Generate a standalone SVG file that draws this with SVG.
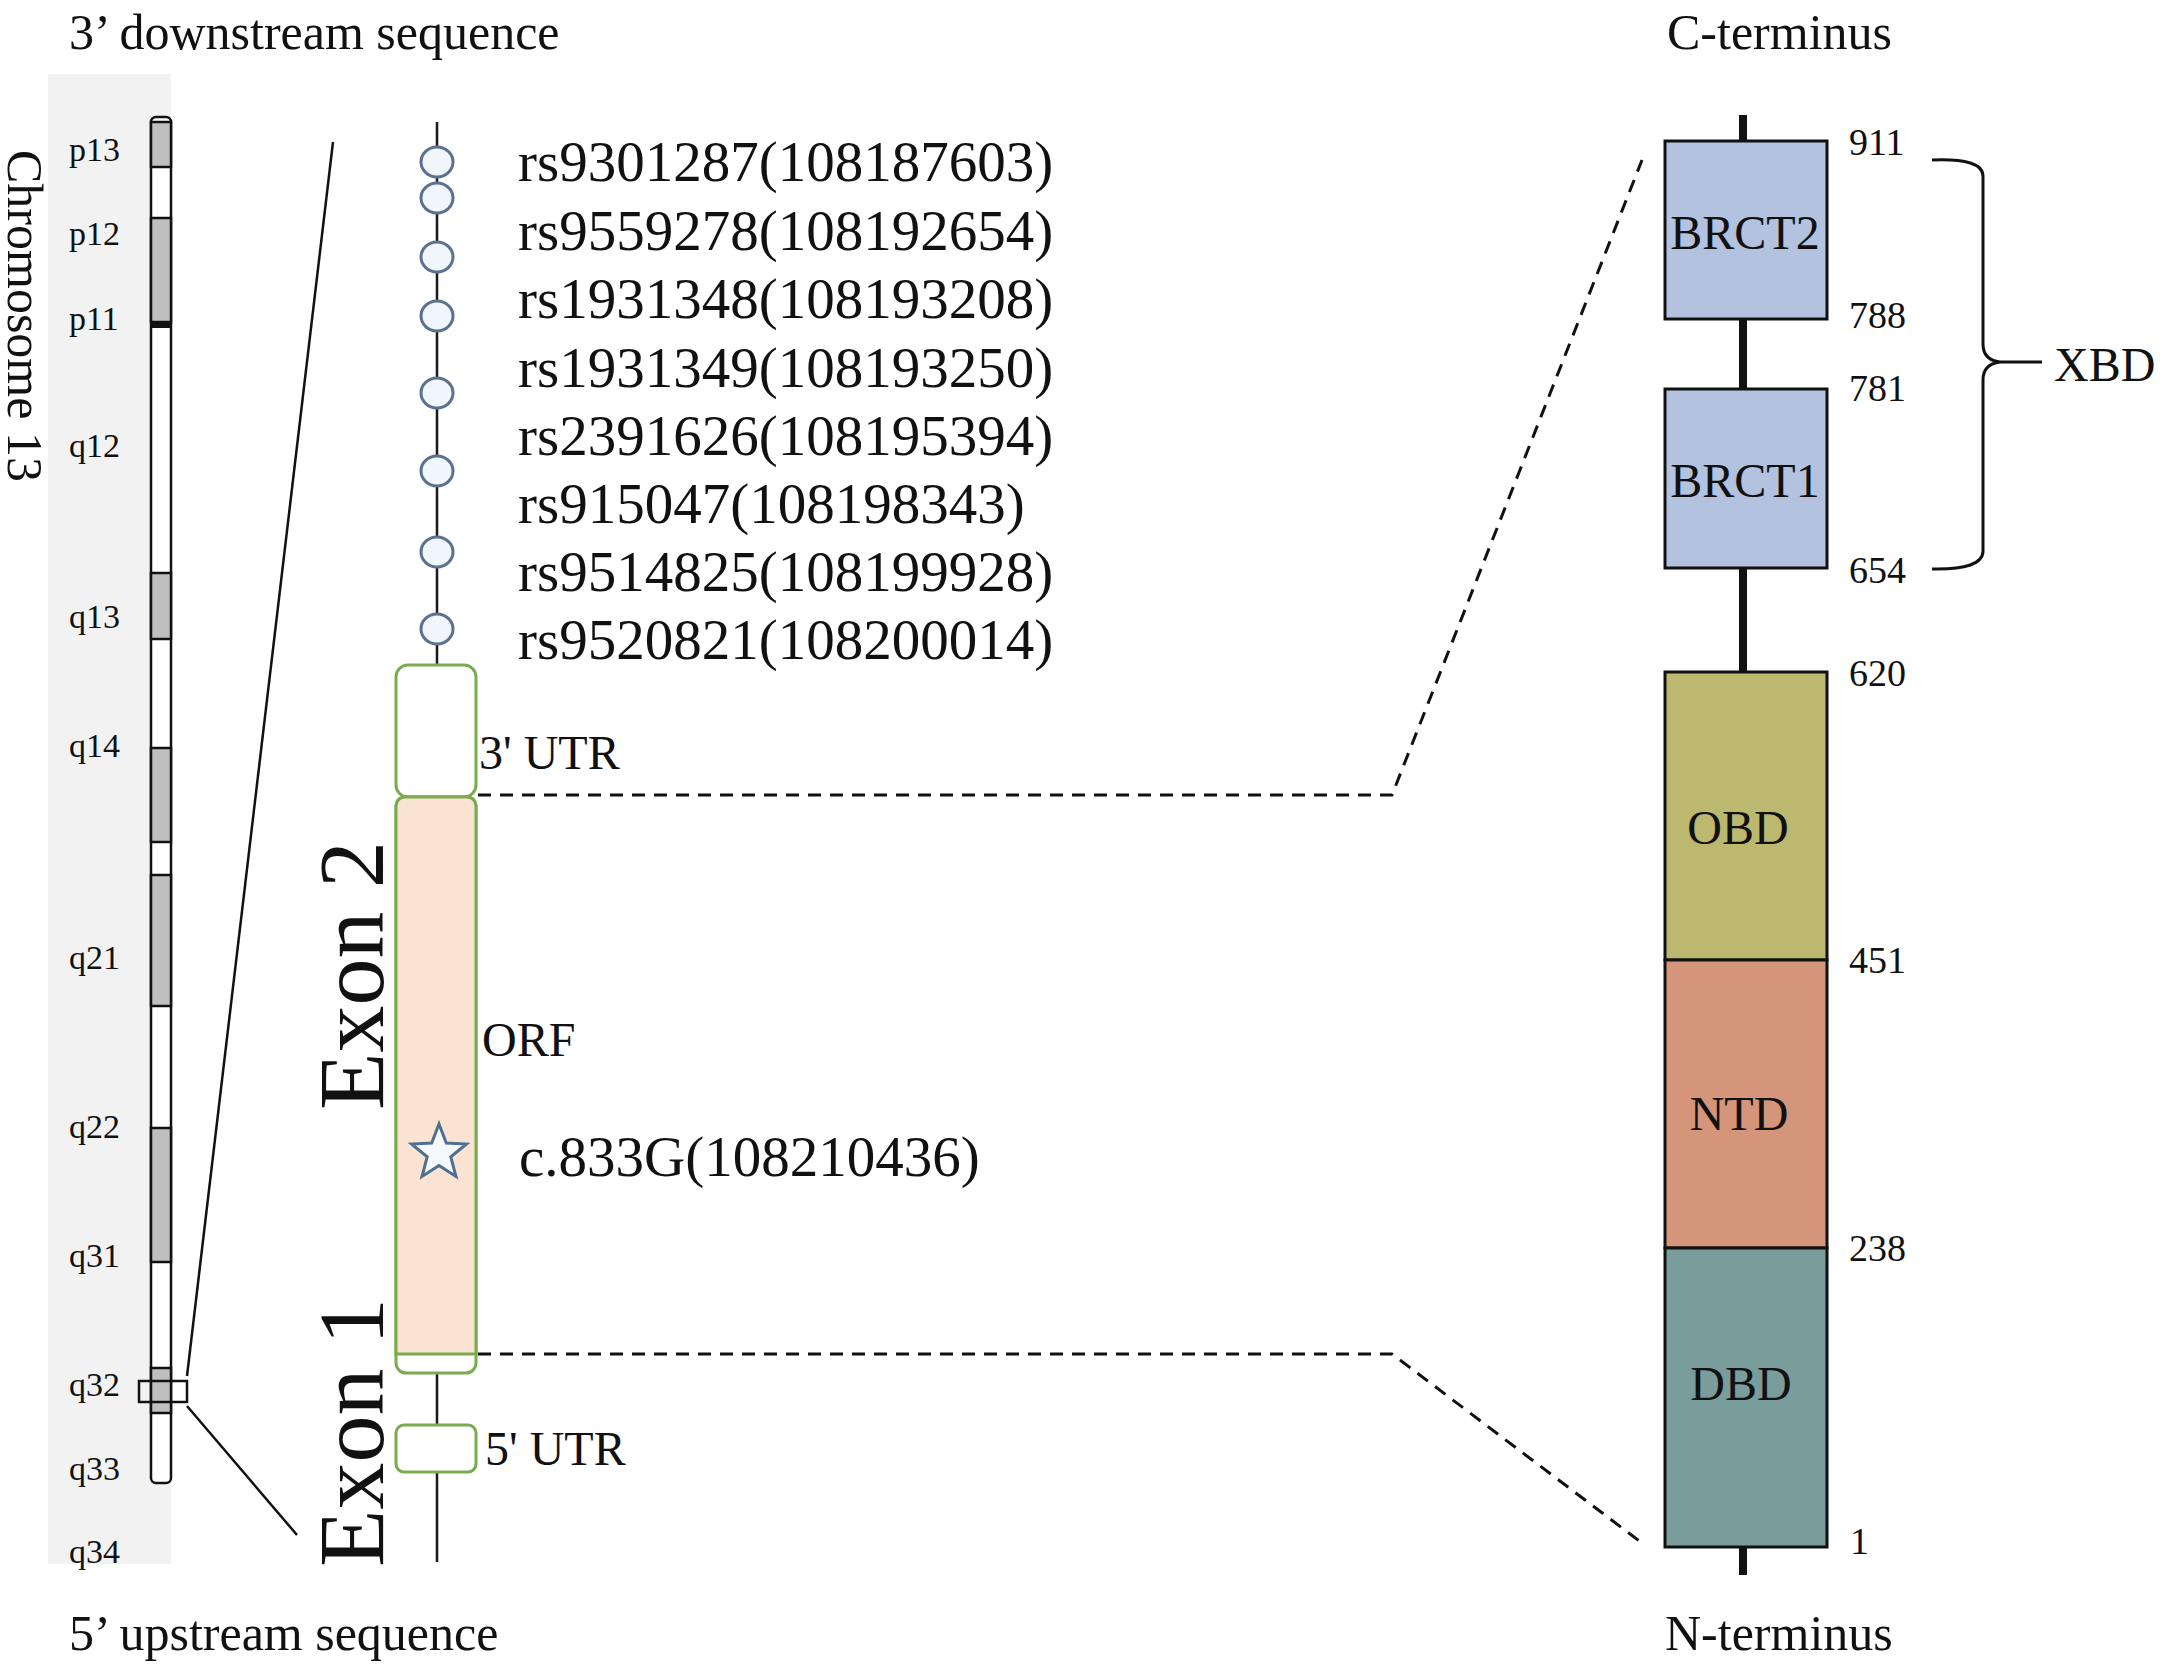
<svg xmlns="http://www.w3.org/2000/svg" width="2165" height="1668" viewBox="0 0 2165 1668">
<defs>
<style>
text{font-family:"Liberation Serif","Times New Roman",serif;fill:#111;}
.t48{font-size:50px;}
.band{font-size:34px;}
.rs{font-size:57px;}
.lab{font-size:48px;}
.num{font-size:38px;}
.exon{font-size:94px;}
.dark{fill:#bfbfbf;stroke:#111;stroke-width:2.5;}
.snp{fill:#f0f6fb;stroke:#5b7190;stroke-width:3;}
.utr{fill:#ffffff;stroke:#7aab50;stroke-width:3;}
.dom{stroke:#111;stroke-width:3;}
.dash{fill:none;stroke:#111;stroke-width:3;stroke-dasharray:13 9;}
.solid{fill:none;stroke:#111;stroke-width:2.5;}
</style>
</defs>
<rect width="2165" height="1668" fill="#ffffff"/>

<g id="titles">
<text class="t48" x="69" y="49">3’ downstream sequence</text>
<text class="t48" x="69" y="1650">5’ upstream sequence</text>
<text class="t48" x="1667" y="49">C-terminus</text>
<text class="t48" x="1665" y="1650">N-terminus</text>
</g>

<g id="chromosome">
<rect x="48" y="74" width="123" height="1490" fill="#f2f2f2"/>
<text class="t48" font-size="49" transform="translate(8,150) rotate(90)">Chromosome 13</text>
<rect x="151" y="117" width="20" height="1366" rx="5" fill="#ffffff" stroke="#111" stroke-width="2.5"/>
<rect class="dark" x="151" y="122" width="20" height="45"/>
<rect class="dark" x="151" y="218" width="20" height="104"/>
<rect x="151" y="321" width="20" height="7" fill="#111"/>
<rect class="dark" x="151" y="573" width="20" height="66"/>
<rect class="dark" x="151" y="748" width="20" height="94"/>
<rect class="dark" x="151" y="875" width="20" height="131"/>
<rect class="dark" x="151" y="1128" width="20" height="134"/>
<rect class="dark" x="151" y="1368" width="20" height="45"/>
<text class="band" x="69" y="161">p13</text>
<text class="band" x="69" y="245">p12</text>
<text class="band" x="69" y="330">p11</text>
<text class="band" x="69" y="457">q12</text>
<text class="band" x="69" y="628">q13</text>
<text class="band" x="69" y="757">q14</text>
<text class="band" x="69" y="969">q21</text>
<text class="band" x="69" y="1138">q22</text>
<text class="band" x="69" y="1267">q31</text>
<text class="band" x="69" y="1396">q32</text>
<text class="band" x="69" y="1480">q33</text>
<text class="band" x="69" y="1563">q34</text>
<rect x="139" y="1381" width="48" height="21" fill="none" stroke="#111" stroke-width="2.5"/>
</g>

<g id="connectors">
<line class="solid" x1="187" y1="1376" x2="333" y2="142"/>
<line class="solid" x1="187" y1="1406" x2="297" y2="1535"/>
<polyline class="dash" points="478,795 1392,795 1642,160"/>
<polyline class="dash" points="478,1354 1392,1354 1642,1543"/>
</g>

<g id="gene">
<line x1="437" y1="122" x2="437" y2="1562" stroke="#1a1a1a" stroke-width="2.5"/>
<g id="snps">
<ellipse class="snp" cx="437" cy="162" rx="16" ry="15"/>
<ellipse class="snp" cx="437" cy="198" rx="16" ry="15"/>
<ellipse class="snp" cx="437" cy="257" rx="16" ry="15"/>
<ellipse class="snp" cx="437" cy="316" rx="16" ry="15"/>
<ellipse class="snp" cx="437" cy="393" rx="16" ry="15"/>
<ellipse class="snp" cx="437" cy="471" rx="16" ry="15"/>
<ellipse class="snp" cx="437" cy="552" rx="16" ry="15"/>
<ellipse class="snp" cx="437" cy="629" rx="16" ry="15"/>
</g>
<g id="snp-labels">
<text class="rs" x="518" y="181">rs9301287(108187603)</text>
<text class="rs" x="518" y="250">rs9559278(108192654)</text>
<text class="rs" x="518" y="318">rs1931348(108193208)</text>
<text class="rs" x="518" y="387">rs1931349(108193250)</text>
<text class="rs" x="518" y="455">rs2391626(108195394)</text>
<text class="rs" x="518" y="523">rs915047(108198343)</text>
<text class="rs" x="518" y="591">rs9514825(108199928)</text>
<text class="rs" x="518" y="659">rs9520821(108200014)</text>
</g>
<g id="utr3">
<rect class="utr" x="396" y="665" width="80" height="132" rx="12"/>
<text class="lab" x="479" y="769">3' UTR</text>
</g>
<g id="orf">
<rect class="utr" x="396" y="797" width="80" height="576" rx="10"/>
<path d="M396,1354 V807 Q396,797 406,797 H466 Q476,797 476,807 V1354 Z" fill="#fbe3d3" stroke="#7aab50" stroke-width="3"/>
<text class="lab" x="482" y="1056">ORF</text>
<path d="M439,1124 L446.3,1143 L466.5,1144 L450.8,1156.9 L456,1176.5 L439,1165.5 L422,1176.5 L427.2,1156.9 L411.5,1144 L431.7,1143 Z" fill="#f5f9fd" stroke="#4f6f92" stroke-width="3" stroke-linejoin="miter"/>
<text class="rs" x="519" y="1176">c.833G(108210436)</text>
</g>
<g id="utr5">
<rect class="utr" x="396" y="1425" width="80" height="47" rx="8"/>
<text class="lab" x="485" y="1465" font-size="49">5' UTR</text>
</g>
<text class="exon" transform="translate(383,1110) rotate(-90)">Exon 2</text>
<text class="exon" transform="translate(383,1567) rotate(-90)">Exon 1</text>
</g>

<g id="protein">
<line x1="1743" y1="115" x2="1743" y2="1575" stroke="#111" stroke-width="8"/>
<g id="brct2">
<rect class="dom" x="1665" y="141" width="162" height="178" fill="#b3c2de"/>
<text class="lab" x="1745" y="249" font-size="51" text-anchor="middle">BRCT2</text>
</g>
<g id="brct1">
<rect class="dom" x="1665" y="389" width="162" height="179" fill="#b3c2de"/>
<text class="lab" x="1745" y="497" font-size="51" text-anchor="middle">BRCT1</text>
</g>
<g id="obd">
<rect class="dom" x="1665" y="672" width="162" height="288" fill="#bcb86f"/>
<text class="lab" x="1738" y="844" text-anchor="middle">OBD</text>
</g>
<g id="ntd">
<rect class="dom" x="1665" y="960" width="162" height="288" fill="#d4957b"/>
<text class="lab" x="1739" y="1130" text-anchor="middle">NTD</text>
</g>
<g id="dbd">
<rect class="dom" x="1665" y="1248" width="162" height="299" fill="#789d9b"/>
<text class="lab" x="1741" y="1400" text-anchor="middle">DBD</text>
</g>
<g id="positions">
<text class="num" x="1849" y="155">911</text>
<text class="num" x="1849" y="328">788</text>
<text class="num" x="1849" y="401">781</text>
<text class="num" x="1849" y="583">654</text>
<text class="num" x="1849" y="686">620</text>
<text class="num" x="1849" y="973">451</text>
<text class="num" x="1849" y="1261">238</text>
<text class="num" x="1850" y="1554">1</text>
</g>
<g id="xbd">
<path d="M1932,160 Q1983,158 1983,176 L1983,344 Q1983,360 2000,362 Q1983,364 1983,380 L1983,551 Q1983,570 1932,569" fill="none" stroke="#111" stroke-width="3"/>
<line x1="2000" y1="362" x2="2042" y2="362" stroke="#111" stroke-width="3"/>
<text class="lab" x="2054" y="381" font-size="48">XBD</text>
</g>
</g>
</svg>
